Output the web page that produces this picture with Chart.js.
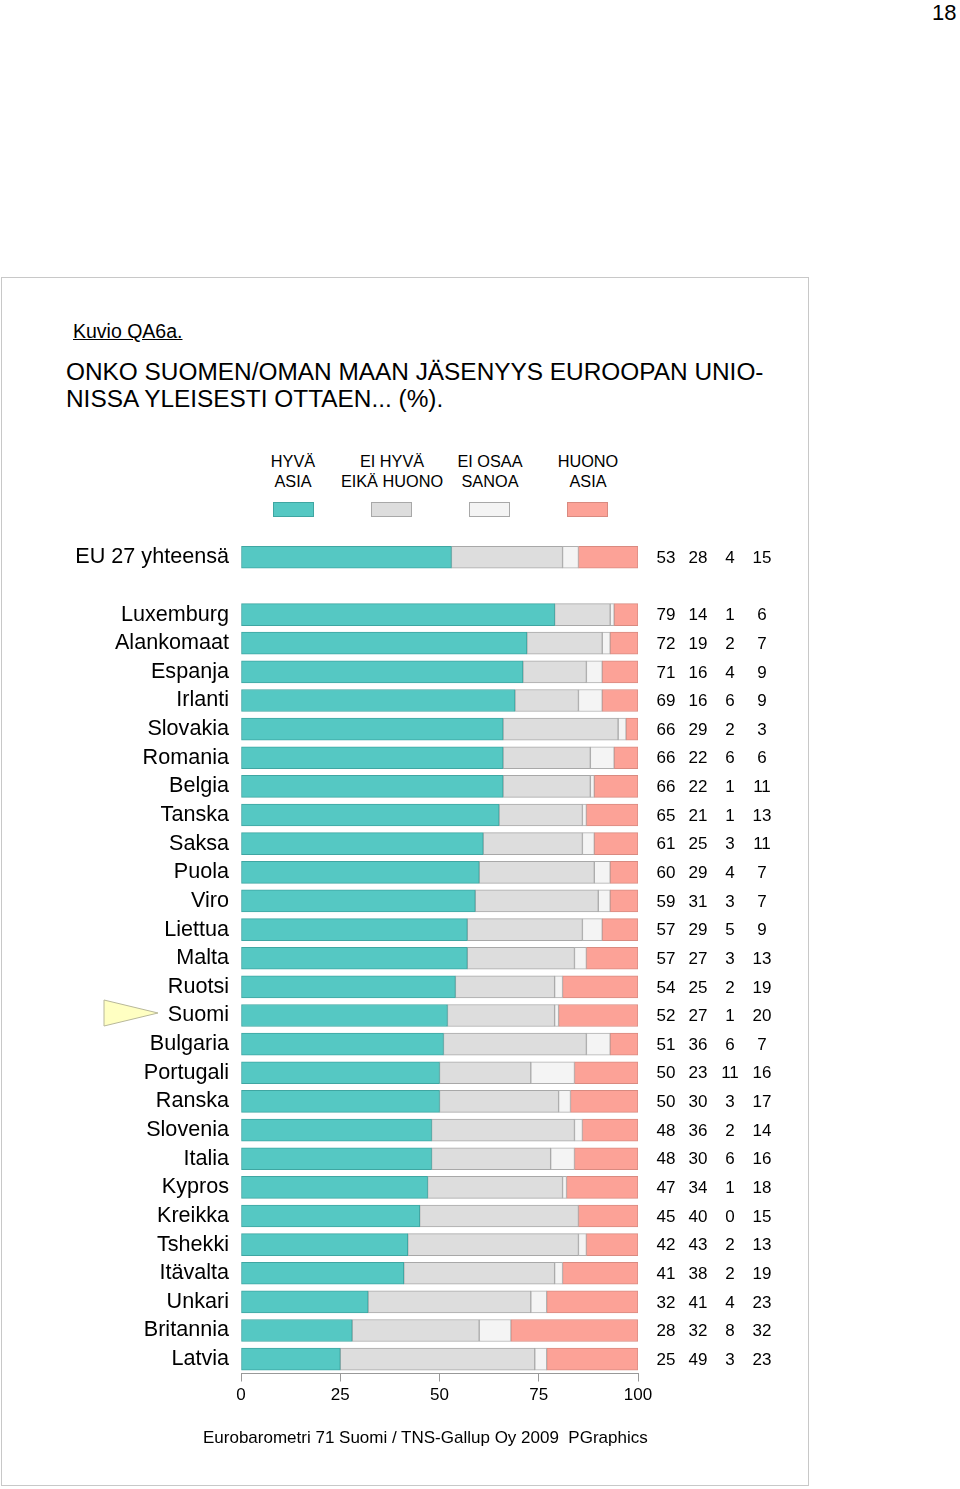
<!DOCTYPE html>
<html>
<head>
<meta charset="utf-8">
<script src="https://cdn.jsdelivr.net/npm/chart.js"></script>
<style>
  body { margin: 0; background: #fff; font-family: "Liberation Sans", Arial, sans-serif; }
  #page { position: relative; width: 960px; height: 1489px; overflow: hidden; }
  .abs { position: absolute; white-space: nowrap; color: #000; }
  #frame { position: absolute; left: 1px; top: 277px; width: 806px; height: 1207px; border: 1px solid #c8c8c8; }
  .leg { position: absolute; top: 451px; width: 120px; text-align: center; font-size: 16.3px; line-height: 20px; }
  .sw { position: absolute; top: 502px; width: 39px; height: 13px; border: 1px solid #a8a8a8; }
  #wrap { position: absolute; left: 0; top: 517.8px; width: 800px; height: 912.2px; }
</style>
</head>
<body>
<div id="page">
  <div class="abs" style="left:932px;top:0px;font-size:22px;">18</div>
  <div id="frame"></div>
  <div class="abs" style="left:73px;top:320px;font-size:19.5px;text-decoration:underline;">Kuvio QA6a.</div>
  <div class="abs" style="left:66px;top:358px;font-size:24.4px;line-height:27px;">ONKO SUOMEN/OMAN MAAN JÄSENYYS EUROOPAN UNIO-<br>NISSA YLEISESTI OTTAEN... (%).</div>

  <div class="leg" style="left:233px;">HYVÄ<br>ASIA</div>
  <div class="leg" style="left:332px;">EI HYVÄ<br>EIKÄ HUONO</div>
  <div class="leg" style="left:430px;">EI OSAA<br>SANOA</div>
  <div class="leg" style="left:528px;">HUONO<br>ASIA</div>
  <div class="sw" style="left:273px;background:#55c8c3;border-color:#3fa6a2;"></div>
  <div class="sw" style="left:371px;background:#dddddd;"></div>
  <div class="sw" style="left:469px;background:#f4f4f4;"></div>
  <div class="sw" style="left:567px;background:#fca297;border-color:#d98a80;"></div>

  <svg class="abs" style="left:0;top:0;" width="200" height="1489">
    <polygon points="104,1000 158,1013 104,1026" fill="#ffffc2" stroke="#b8b89a" stroke-width="1"/>
  </svg>

  <div id="wrap"><canvas id="myChart"></canvas></div>

  <div class="abs" style="left:203px;top:1428px;font-size:17px;">Eurobarometri 71 Suomi / TNS-Gallup Oy 2009&nbsp; PGraphics</div>
</div>

<script>
var categories = ['EU 27 yhteensä', '', 'Luxemburg', 'Alankomaat', 'Espanja', 'Irlanti', 'Slovakia', 'Romania',
  'Belgia', 'Tanska', 'Saksa', 'Puola', 'Viro', 'Liettua', 'Malta', 'Ruotsi', 'Suomi', 'Bulgaria',
  'Portugali', 'Ranska', 'Slovenia', 'Italia', 'Kypros', 'Kreikka', 'Tshekki', 'Itävalta', 'Unkari',
  'Britannia', 'Latvia'];

var hyva     = [53, null, 79, 72, 71, 69, 66, 66, 66, 65, 61, 60, 59, 57, 57, 54, 52, 51, 50, 50, 48, 48, 47, 45, 42, 41, 32, 28, 25];
var eiHyva   = [28, null, 14, 19, 16, 16, 29, 22, 22, 21, 25, 29, 31, 29, 27, 25, 27, 36, 23, 30, 36, 30, 34, 40, 43, 38, 41, 32, 49];
var eiOsaa   = [4,  null, 1,  2,  4,  6,  2,  6,  1,  1,  3,  4,  3,  5,  3,  2,  1,  6,  11, 3,  2,  6,  1,  0,  2,  2,  4,  8,  3];
var huono    = [15, null, 6,  7,  9,  9,  3,  6,  11, 13, 11, 7,  7,  9,  13, 19, 20, 7,  16, 17, 14, 16, 18, 15, 13, 19, 23, 32, 23];

var seriesNames = ['HYVÄ ASIA', 'EI HYVÄ EIKÄ HUONO', 'EI OSAA SANOA', 'HUONO ASIA'];
var xTicks = [0, 25, 50, 75, 100];

var fills = ['#55c8c3', '#dddddd', '#f4f4f4', '#fca297'];
var borders = ['#3fa6a2', '#a8a8a8', '#b0b0b0', '#d98a80'];
var valueX = [666, 698, 730, 762];

var valueTable = {
  id: 'valueTable',
  afterDraw: function(chart) {
    var c = chart.ctx;
    var y = chart.scales.y;
    c.save();
    c.font = '17px "Liberation Sans", Arial, sans-serif';
    c.fillStyle = '#000';
    c.textAlign = 'center';
    c.textBaseline = 'middle';
    var all = [hyva, eiHyva, eiOsaa, huono];
    for (var i = 0; i < categories.length; i++) {
      if (hyva[i] === null) continue;
      var py = y.getPixelForValue(i);
      for (var k = 0; k < all.length; k++) {
        c.fillText(String(all[k][i]), valueX[k], py + 1);
      }
    }
    c.restore();
  }
};

var all = [hyva, eiHyva, eiOsaa, huono];
var datasets = [];
for (var k = 0; k < all.length; k++) {
  datasets.push({
    label: seriesNames[k],
    data: all[k],
    backgroundColor: fills[k],
    borderColor: borders[k],
    borderWidth: 1,
    borderSkipped: false,
    barThickness: 22
  });
}

var ctx = document.getElementById('myChart');
var myChart = new Chart(ctx, {
  type: 'bar',
  data: { labels: categories, datasets: datasets },
  options: {
    indexAxis: 'y',
    responsive: true,
    maintainAspectRatio: false,
    animation: false,
    layout: { padding: { left: 0, right: 162, top: 0, bottom: 16.7 } },
    plugins: { legend: { display: false }, tooltip: { enabled: false } },
    scales: {
      x: {
        stacked: true,
        min: 0,
        max: 100,
        afterFit: function(s) { s.height = 40; },
        afterBuildTicks: function(s) { s.ticks = xTicks.map(function(v) { return { value: v }; }); },
        grid: { drawOnChartArea: false, drawTicks: true, tickLength: 8, color: '#999' },
        border: { display: true, color: '#999' },
        ticks: { padding: 4, color: '#000', font: { size: 17, family: '"Liberation Sans", Arial, sans-serif' }, maxRotation: 0 }
      },
      y: {
        stacked: true,
        afterFit: function(s) { s.width = 241; },
        grid: { display: false, drawTicks: false },
        border: { display: false },
        ticks: { padding: 12, color: '#000', autoSkip: false, font: { size: 21.6, family: '"Liberation Sans", Arial, sans-serif' } }
      }
    }
  },
  plugins: [valueTable]
});
</script>
</body>
</html>
